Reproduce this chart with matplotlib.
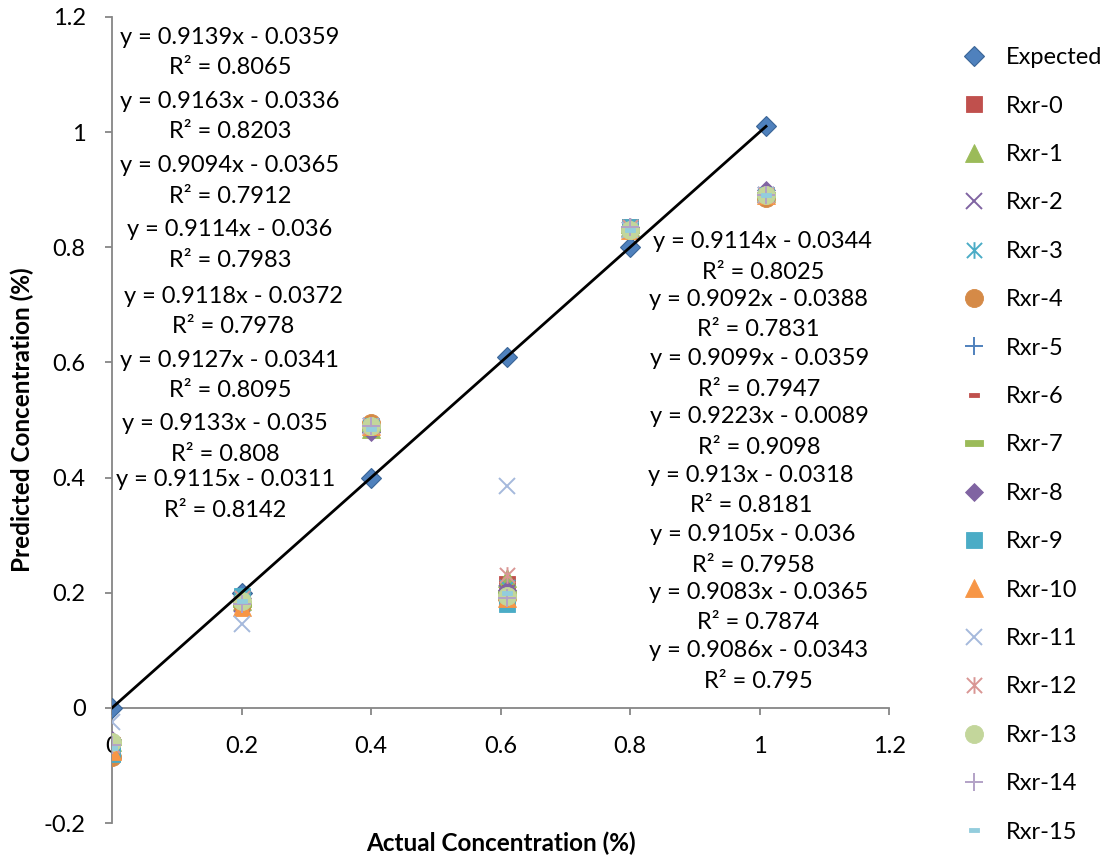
import numpy as np
import matplotlib
matplotlib.use("Agg")
import matplotlib.pyplot as plt
from matplotlib.path import Path

plt.rcParams['font.family'] = ['Lato', 'DejaVu Sans']

# ---------------- data ----------------
x_actual = [0, 0.2, 0.4, 0.61, 0.8, 1.01]
expected = [0, 0.2, 0.4, 0.61, 0.8, 1.01]

series_names = ["Rxr-0", "Rxr-1", "Rxr-2", "Rxr-3", "Rxr-4", "Rxr-5", "Rxr-6", "Rxr-7",
                "Rxr-8", "Rxr-9", "Rxr-10", "Rxr-11", "Rxr-12", "Rxr-13", "Rxr-14", "Rxr-15"]

rxr0 = [-0.065, 0.19, 0.49, 0.215, 0.835, 0.89]
rxr1 = [-0.060, 0.185, 0.485, 0.225, 0.835, 0.895]
rxr2 = [-0.070, 0.180, 0.490, 0.200, 0.830, 0.890]
rxr3 = [-0.065, 0.190, 0.490, 0.210, 0.835, 0.890]
rxr4 = [-0.085, 0.180, 0.495, 0.190, 0.830, 0.885]
rxr5 = [-0.070, 0.185, 0.485, 0.200, 0.835, 0.890]
rxr6 = [-0.065, 0.190, 0.490, 0.210, 0.840, 0.895]
rxr7 = [-0.060, 0.180, 0.485, 0.200, 0.830, 0.890]
rxr8 = [-0.055, 0.190, 0.480, 0.205, 0.835, 0.900]
rxr9 = [-0.080, 0.195, 0.490, 0.180, 0.835, 0.890]
rxr10 = [-0.075, 0.175, 0.490, 0.190, 0.830, 0.890]
rxr11 = [-0.025, 0.145, 0.490, 0.385, 0.830, 0.890]
rxr12 = [-0.065, 0.190, 0.490, 0.230, 0.835, 0.890]
rxr13 = [-0.060, 0.185, 0.490, 0.195, 0.830, 0.890]
rxr14 = [-0.065, 0.180, 0.490, 0.190, 0.835, 0.890]
rxr15 = [-0.070, 0.185, 0.485, 0.200, 0.830, 0.890]
rxr_values = [rxr0, rxr1, rxr2, rxr3, rxr4, rxr5, rxr6, rxr7,
              rxr8, rxr9, rxr10, rxr11, rxr12, rxr13, rxr14, rxr15]

left_equations = ["y = 0.9139x - 0.0359\nR² = 0.8065",
                  "y = 0.9163x - 0.0336\nR² = 0.8203",
                  "y = 0.9094x - 0.0365\nR² = 0.7912",
                  "y = 0.9114x - 0.036\nR² = 0.7983",
                  "y = 0.9118x - 0.0372\nR² = 0.7978",
                  "y = 0.9127x - 0.0341\nR² = 0.8095",
                  "y = 0.9133x - 0.035\nR² = 0.808",
                  "y = 0.9115x - 0.0311\nR² = 0.8142"]
right_equations = ["y = 0.9114x - 0.0344\nR² = 0.8025",
                   "y = 0.9092x - 0.0388\nR² = 0.7831",
                   "y = 0.9099x - 0.0359\nR² = 0.7947",
                   "y = 0.9223x - 0.0089\nR² = 0.9098",
                   "y = 0.913x - 0.0318\nR² = 0.8181",
                   "y = 0.9105x - 0.036\nR² = 0.7958",
                   "y = 0.9083x - 0.0365\nR² = 0.7874",
                   "y = 0.9086x - 0.0343\nR² = 0.795"]

x_ticks = [0, 0.2, 0.4, 0.6, 0.8, 1, 1.2]
x_tick_labels = ["0", "0.2", "0.4", "0.6", "0.8", "1", "1.2"]
y_ticks = [-0.2, 0, 0.2, 0.4, 0.6, 0.8, 1, 1.2]
y_tick_labels = ["-0.2", "0", "0.2", "0.4", "0.6", "0.8", "1", "1.2"]

# ---------------- styles ----------------
def seg_path(segs):
    verts, codes = [], []
    for (a, b) in segs:
        verts += [a, b]
        codes += [Path.MOVETO, Path.LINETO]
    return Path(verts, codes)

asterisk = seg_path([((-1, -1), (1, 1)), ((-1, 1), (1, -1)), ((0, -1.1), (0, 1.1))])
long_dash = Path([(-1, -0.28), (1, -0.28), (1, 0.28), (-1, 0.28), (-1, -0.28)],
                 [Path.MOVETO, Path.LINETO, Path.LINETO, Path.LINETO, Path.CLOSEPOLY])
short_dash = Path([(-1, -0.4), (1, -0.4), (1, 0.4), (-1, 0.4), (-1, -0.4)],
                  [Path.MOVETO, Path.LINETO, Path.LINETO, Path.LINETO, Path.CLOSEPOLY])

styles = [
    dict(marker='s', color='#C0504D', ms=12, line=False),
    dict(marker='^', color='#9BBB59', ms=13, line=False),
    dict(marker='x', color='#8064A2', ms=11.5, line=True),
    dict(marker=asterisk, color='#4BACC6', ms=12, line=True),
    dict(marker='o', color='#D58A47', ms=13, line=False),
    dict(marker='+', color='#4F81BD', ms=13, line=True),
    dict(marker=short_dash, color='#C0504D', ms=7, line=False),
    dict(marker=long_dash, color='#9BBB59', ms=13, line=False),
    dict(marker='D', color='#8064A2', ms=9, line=False),
    dict(marker='s', color='#4BACC6', ms=12, line=False),
    dict(marker='^', color='#F79646', ms=13, line=False),
    dict(marker='x', color='#A5B9DC', ms=11.5, line=True),
    dict(marker=asterisk, color='#D99694', ms=12, line=True),
    dict(marker='o', color='#C3D69B', ms=13, line=False),
    dict(marker='+', color='#B3A2C7', ms=13, line=True),
    dict(marker=short_dash, color='#93CDDD', ms=7, line=False),
]

FS = 17

fig = plt.figure(figsize=(11.08, 8.61), dpi=100)
ax = fig.add_axes([0.1011, 0.0441, 0.7013, 0.9362])

handles = []
h = ax.plot(x_actual, expected, linestyle='none', marker='D', ms=10,
            markerfacecolor='#4F81BD', markeredgecolor='#3A6596', markeredgewidth=0.8,
            label='Expected', zorder=3)[0]
handles.append(h)
for name, vals, st in zip(series_names, rxr_values, styles):
    if st['line']:
        h = ax.plot(x_actual, vals, linestyle='none', marker=st['marker'], ms=st['ms'],
                    markerfacecolor='none', markeredgecolor=st['color'], markeredgewidth=1.4,
                    label=name, zorder=3)[0]
    else:
        h = ax.plot(x_actual, vals, linestyle='none', marker=st['marker'], ms=st['ms'],
                    markerfacecolor=st['color'], markeredgecolor=st['color'], markeredgewidth=0.6,
                    label=name, zorder=3)[0]
    handles.append(h)

# linear trendline of the expected series
coef = np.polyfit(x_actual, expected, 1)
xt = np.array([min(x_actual), max(x_actual)])
ax.plot(xt, np.polyval(coef, xt), color='black', lw=2, zorder=4)

# trendline label positions (data coords)
left_pos = [(0.182, 1.138), (0.182, 1.027), (0.182, 0.915), (0.182, 0.804),
            (0.187, 0.688), (0.182, 0.577), (0.175, 0.467), (0.175, 0.370)]
right_pos = [(1.005, 0.783), (0.998, 0.683), (1.0, 0.580), (1.0, 0.479),
             (0.987, 0.377), (0.990, 0.274), (0.998, 0.174), (0.998, 0.073)]
for txt, (px, py) in zip(left_equations, left_pos):
    ax.text(px, py, txt, ha='center', va='center', fontsize=FS, linespacing=1.55, zorder=6)
for txt, (px, py) in zip(right_equations, right_pos):
    ax.text(px, py, txt, ha='center', va='center', fontsize=FS, linespacing=1.55, zorder=6)

ax.set_xlim(0, 1.2)
ax.set_ylim(-0.2, 1.2)
ax.set_xticks(x_ticks)
ax.set_xticklabels(x_tick_labels)
ax.set_yticks(y_ticks)
ax.set_yticklabels(y_tick_labels)

for s in ['top', 'right']:
    ax.spines[s].set_visible(False)
ax.spines['bottom'].set_position(('data', 0))
for s in ['left', 'bottom']:
    ax.spines[s].set_color('#868686')
    ax.spines[s].set_linewidth(1.3)
ax.tick_params(axis='both', direction='out', length=5, width=1.3, color='#868686',
               labelsize=FS, labelcolor='black')
ax.tick_params(axis='x', pad=15)
ax.tick_params(axis='y', pad=14)
ax.patch.set_visible(False)

fig.text(0.452, 0.021, 'Actual Concentration (%)', ha='center', va='center',
         fontsize=17.5, fontweight='bold')
fig.text(0.020, 0.512, 'Predicted Concentration (%)', ha='center', va='center',
         rotation=90, fontsize=17.5, fontweight='bold')

fig.legend(handles=handles, loc='upper left', bbox_to_anchor=(0.858, 0.956),
           frameon=False, fontsize=FS, labelspacing=1.16, handletextpad=0.75,
           handlelength=1.2, borderaxespad=0)

fig.savefig('out.png', dpi=100)
